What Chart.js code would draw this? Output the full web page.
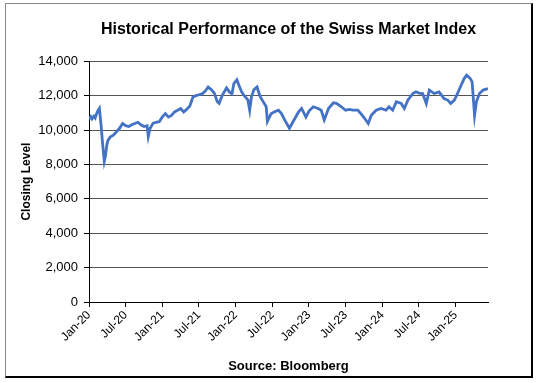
<!DOCTYPE html>
<html>
<head>
<meta charset="utf-8">
<script src="https://cdn.jsdelivr.net/npm/chart.js@4/dist/chart.umd.min.js"></script>
<style>
	body { margin: 0; background: #fff; }
	#wrap { position: relative; width: 540px; height: 383px; }
	#frame {
		position: absolute; left: 5px; top: 3px; width: 525px; height: 372px;
		border-left: 1px solid #888; border-top: 1px solid #888;
		border-right: 2px solid #000; border-bottom: 2px solid #000;
	}
	canvas { position: absolute; left: 0; top: 0; }
</style>
</head>
<body>
<div id="wrap">
	<div id="frame"></div>
	<canvas id="chart" width="540" height="383"></canvas>
</div>
<script>
// months elapsed since 1 Jan 2020, and SMI close
const months = [
	0.0, 0.3, 0.5, 0.8, 1.0, 1.3, 1.5, 1.7, 2.0, 2.2, 2.5, 2.7, 2.9, 3.1, 3.5, 4.0, 4.5, 5.0, 5.5,
	6.0, 6.5, 7.0, 7.5, 8.0, 8.5, 9.0, 9.5, 9.7, 10.0, 10.5, 11.0, 11.5,
	12.0, 12.5, 13.0, 13.5, 14.0, 14.5, 15.0, 15.5, 16.0, 16.5, 17.0, 17.5,
	18.0, 18.5, 19.0, 19.5, 20.0, 20.5, 21.0, 21.3, 21.8, 22.5, 23.0, 23.4, 23.7,
	24.2, 24.6, 25.0, 25.5, 26.0, 26.3, 26.6, 27.0, 27.5, 28.0, 28.5, 29.0, 29.2, 29.8,
	30.3, 31.0, 31.5, 32.0, 32.8, 33.5, 34.3, 34.8, 35.5,
	36.0, 36.7, 37.5, 38.0, 38.5, 39.2, 40.0, 40.5, 41.3, 42.0, 42.6, 43.2, 44.0, 44.5,
	45.1, 45.7, 46.2, 47.0, 47.8,
	48.6, 49.1, 49.7, 50.3, 51.1, 51.6, 52.2, 53.0, 53.5, 54.0, 54.6, 55.2, 55.7,
	56.5, 57.3, 58.1, 58.7, 59.2, 59.8,
	60.3, 60.9, 61.4, 61.8, 62.4, 62.7, 63.1, 63.4, 63.9, 64.5, 65.3
];
const closes = [
	10620, 10780, 10650, 10800, 10700, 11000, 11150, 11260, 10200, 9300, 8180, 8500, 9100, 9400, 9600, 9700, 9900, 10100, 10380,
	10250, 10200, 10300, 10380, 10450, 10300, 10200, 10250, 9620, 10100, 10400, 10450, 10480,
	10760, 10950, 10750, 10850, 11050, 11150, 11250, 11050, 11200, 11400, 11900, 12000,
	12050, 12100, 12250, 12500, 12350, 12150, 11650, 11550, 12000, 12450, 12200, 12100, 12700,
	12920, 12550, 12200, 11950, 11750, 11150, 11950, 12350, 12500, 11950, 11650, 11350, 10500, 10950,
	11050, 11150, 10950, 10600, 10100, 10550, 11050, 11250, 10750,
	11100, 11350, 11250, 11150, 10580, 11250, 11580, 11550, 11350, 11150, 11200, 11150, 11150, 10950,
	10680, 10380, 10850, 11150, 11250,
	11150, 11350, 11150, 11640, 11540, 11250, 11750, 12120, 12220, 12150, 12120, 11540, 12320,
	12120, 12220, 11830, 11740, 11540, 11740,
	12120, 12600, 12990, 13190, 12990, 12800, 10850, 11640, 12120, 12320, 12410
];
const xTickPositions = [0, 6, 12, 18, 24, 30, 36, 42, 48, 54, 60];
const xTickLabels = ["Jan-20", "Jul-20", "Jan-21", "Jul-21", "Jan-22", "Jul-22", "Jan-23", "Jul-23", "Jan-24", "Jul-24", "Jan-25"];

const font = "'Liberation Sans', Arial, sans-serif";

new Chart(document.getElementById("chart"), {
	type: "line",
	data: {
		datasets: [{
			data: months.map((m, i) => ({ x: m, y: closes[i] })),
			borderColor: "#4472C4",
			borderWidth: 2.8,
			pointRadius: 0,
			tension: 0
		}]
	},
	options: {
		responsive: false,
		animation: false,
		layout: { padding: { left: 8, right: 52, top: 0, bottom: 8 } },
		plugins: {
			legend: { display: false },
			tooltip: { enabled: false },
			title: {
				display: true,
				text: "Historical Performance of the Swiss Market Index",
				fullSize: false,
				color: "#000",
				font: { family: font, size: 16, weight: "bold" },
				padding: { top: 20, bottom: 22 }
			}
		},
		scales: {
			x: {
				type: "linear",
				min: 0,
				max: 65.3,
				afterFit: (s) => { s.height = 73; },
				afterBuildTicks: (s) => { s.ticks = xTickPositions.map(v => ({ value: v })); },
				ticks: {
					autoSkip: false,
					minRotation: 45,
					maxRotation: 45,
					padding: 1,
					color: "#000",
					font: { family: font, size: 12 },
					callback: (v) => xTickLabels[xTickPositions.indexOf(v)]
				},
				grid: { drawOnChartArea: false, drawTicks: true, tickLength: 5, tickColor: "#000" },
				border: { color: "#000", width: 1 },
				title: {
					display: true,
					text: "Source: Bloomberg",
					color: "#000",
					font: { family: font, size: 13, weight: "bold" },
					padding: { top: 0, bottom: 1 }
				}
			},
			y: {
				min: 0,
				max: 14000,
				afterFit: (s) => { s.width = 81; },
				ticks: {
					stepSize: 2000,
					padding: 6,
					color: "#000",
					font: { family: font, size: 13 },
					callback: (v) => v.toLocaleString("en-US")
				},
				grid: { color: "#555", tickLength: 5, tickColor: "#000" },
				border: { color: "#000", width: 1 },
				title: {
					display: true,
					text: "Closing Level",
					color: "#000",
					font: { family: font, size: 12, weight: "bold" },
					padding: { top: 11, bottom: 0 }
				}
			}
		}
	}
});
</script>
</body>
</html>
